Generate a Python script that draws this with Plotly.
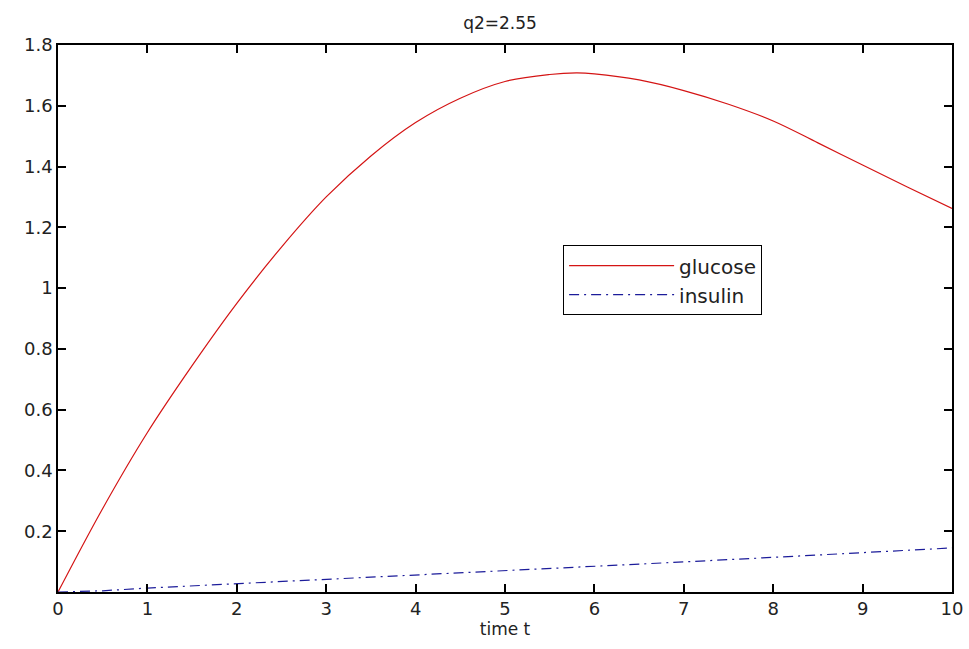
import plotly.graph_objects as go

t_glucose = [0, 0.5, 1, 1.5, 2, 2.5, 3, 3.5, 4, 4.5, 5, 5.5, 5.8, 6, 6.5, 7, 7.5, 8, 8.5, 9, 9.5, 10]
glucose = [0, 0.275, 0.525, 0.745, 0.95, 1.135, 1.30, 1.435, 1.545, 1.625, 1.68, 1.703, 1.708, 1.705, 1.685, 1.65, 1.605, 1.55, 1.478, 1.405, 1.333, 1.262]

t_insulin = [0, 0.5, 1, 2, 3, 4, 5, 6, 7, 8, 9, 10]
insulin = [0, 0.004, 0.013, 0.027, 0.043, 0.057, 0.071, 0.085, 0.099, 0.114, 0.129, 0.145]

x_ticks = [0, 1, 2, 3, 4, 5, 6, 7, 8, 9, 10]
y_ticks = [0.2, 0.4, 0.6, 0.8, 1.0, 1.2, 1.4, 1.6, 1.8]
y_tick_labels = ["0.2", "0.4", "0.6", "0.8", "1", "1.2", "1.4", "1.6", "1.8"]

font_family = "DejaVu Sans"

fig = go.Figure()
fig.add_trace(go.Scatter(x=t_glucose, y=glucose, mode="lines", name="glucose",
                         line=dict(color="#d41414", width=1.2, shape="spline", smoothing=1.0)))
fig.add_trace(go.Scatter(x=t_insulin, y=insulin, mode="lines", name="insulin",
                         line=dict(color="#1c1c9a", width=1.2, dash="10px,5px,2px,5px")))

axis_common = dict(showline=True, linecolor="black", linewidth=1.5, mirror="ticks",
                   ticks="inside", ticklen=8, tickwidth=1.5, tickcolor="black",
                   showgrid=False, zeroline=False, automargin=False,
                   tickfont=dict(family=font_family, size=18, color="#222"))

fig.update_xaxes(range=[0, 10], tickvals=x_ticks,
                 title=dict(text="time t", font=dict(family=font_family, size=17, color="#222"), standoff=4),
                 **axis_common)
fig.update_yaxes(range=[0, 1.8], tickvals=y_ticks, ticktext=y_tick_labels, **axis_common)

fig.update_layout(
    width=969, height=649,
    margin=dict(l=58, r=17, t=45, b=57),
    paper_bgcolor="white", plot_bgcolor="white",
    title=dict(text="q2=2.55", x=0.516, xanchor="center", y=0.965, yanchor="middle",
               font=dict(family=font_family, size=17, color="#222")),
    legend=dict(x=0.565, y=0.634, xanchor="left", yanchor="top",
                bgcolor="white", bordercolor="black", borderwidth=1,
                font=dict(family=font_family, size=20, color="#222"),
                itemwidth=105, tracegroupgap=0),
    showlegend=True,
)

fig.write_html("out.html")
